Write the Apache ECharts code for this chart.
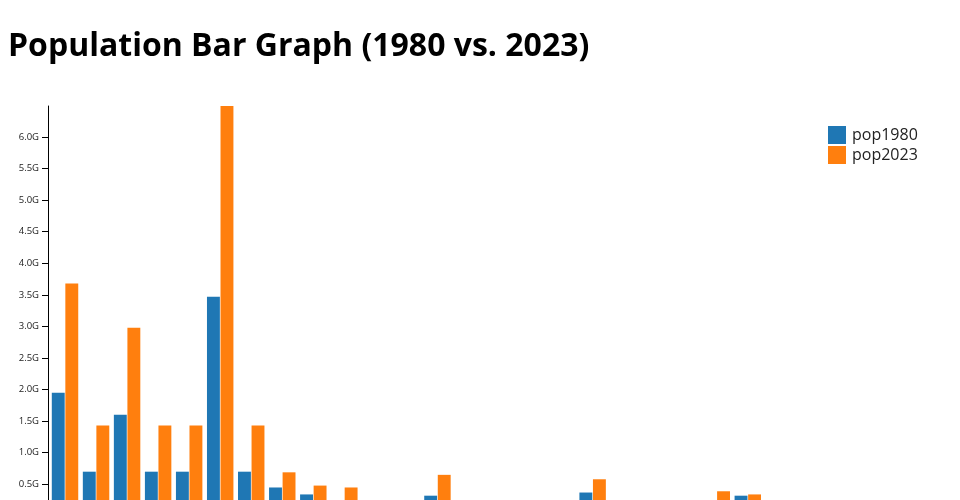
<!DOCTYPE html>
<html>
<head>
<meta charset="utf-8">
<script src="https://cdn.jsdelivr.net/npm/echarts@6/dist/echarts.min.js"></script>
<style>
  html, body { margin: 0; padding: 0; background: #fff; overflow: hidden; }
  #chart { width: 960px; height: 560px; }
</style>
</head>
<body>
<div id="chart"></div>
<script>
const titleText = 'Population Bar Graph (1980 vs. 2023)';
const seriesNames = ['pop1980', 'pop2023'];
const categories = ['Item 1','Item 2','Item 3','Item 4','Item 5','Item 6','Item 7','Item 8','Item 9','Item 10',
  'Item 11','Item 12','Item 13','Item 14','Item 15','Item 16','Item 17','Item 18','Item 19','Item 20',
  'Item 21','Item 22','Item 23','Item 24','Item 25','Item 26','Item 27','Item 28'];
// values in billions
const pop1980 = [1.95, 0.70, 1.60, 0.70, 0.70, 3.47, 0.70, 0.45, 0.34, 0.20,
  0.12, 0.10, 0.32, 0.15, 0.08, 0.10, 0.12, 0.37, 0.10, 0.08,
  0.12, 0.20, 0.32, 0.10, 0.08, 0.06, 0.05, 0.04];
const pop2023 = [3.68, 1.43, 2.98, 1.43, 1.43, 6.49, 1.43, 0.69, 0.48, 0.45,
  0.20, 0.18, 0.65, 0.22, 0.15, 0.18, 0.20, 0.58, 0.18, 0.15,
  0.20, 0.39, 0.34, 0.18, 0.15, 0.12, 0.10, 0.08];
const yTickStep = 0.5;

const chart = echarts.init(document.getElementById('chart'), null, { renderer: 'canvas' });
const font = "'Open Sans', sans-serif";
chart.setOption({
  animation: false,
  textStyle: { fontFamily: font },
  title: {
    text: titleText,
    left: 3, top: 26,
    textStyle: { fontFamily: font, fontWeight: 'bold', fontSize: 32, color: '#000' }
  },
  legend: {
    orient: 'vertical',
    left: 828, top: 126,
    padding: 0,
    itemWidth: 18, itemHeight: 18, itemGap: 2,
    icon: 'rect',
    data: seriesNames,
    textStyle: { fontFamily: font, fontSize: 16, color: '#222', padding: [0, 0, 0, 1] }
  },
  grid: { left: 49.5, width: 869, top: 106, bottom: 560 - 515.9 },
  xAxis: {
    type: 'category',
    data: categories,
    axisLine: { lineStyle: { color: '#000' } },
    axisTick: { show: false },
    axisLabel: { fontSize: 10, color: '#000' }
  },
  yAxis: {
    type: 'value',
    min: 0, max: Math.max(...pop2023, ...pop1980),
    interval: yTickStep,
    offset: 1.5,
    splitLine: { show: false },
    axisLine: { show: true, lineStyle: { color: '#000', width: 1 } },
    axisTick: { show: true, length: 6, lineStyle: { color: '#000' } },
    axisLabel: {
      fontFamily: font, fontSize: 9.5, color: '#222', margin: 9,
      showMaxLabel: false,
      formatter: v => v.toFixed(1) + 'G'
    }
  },
  series: [
    { name: seriesNames[0], type: 'bar', data: pop1980, barWidth: 12.9, barGap: '5%', itemStyle: { color: '#1f77b4' } },
    { name: seriesNames[1], type: 'bar', data: pop2023, barWidth: 12.9, barGap: '5%', itemStyle: { color: '#ff7f0e' } }
  ]
});
</script>
</body>
</html>
